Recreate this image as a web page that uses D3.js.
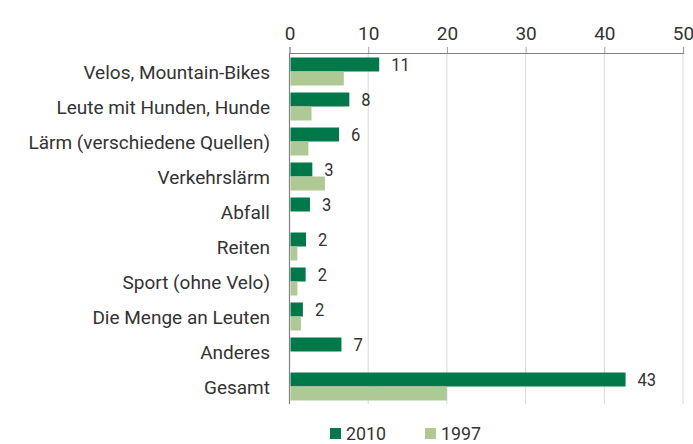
<!DOCTYPE html>
<html><head><meta charset="utf-8">
<script src="https://cdn.jsdelivr.net/npm/d3@7"></script>
<style>
body{margin:0;background:#fff;}
text{font-family:"Roboto","Liberation Sans",sans-serif;fill:#333;}
</style></head>
<body><svg id="c" width="693" height="444"></svg>
<script>
const categories = ["Velos, Mountain-Bikes","Leute mit Hunden, Hunde","Lärm (verschiedene Quellen)","Verkehrslärm","Abfall","Reiten","Sport (ohne Velo)","Die Menge an Leuten","Anderes","Gesamt"];
const series = ["2010","1997"];
const values2010 = [11.4, 7.6, 6.3, 2.9, 2.6, 2.1, 2.05, 1.7, 6.6, 42.7];
const values1997 = [6.9, 2.8, 2.4, 4.5, null, 1.0, 1.0, 1.45, null, 20.0];
const labels2010 = ["11","8","6","3","3","2","2","2","7","43"];
const xTicks = [0,10,20,30,40,50];

const svg = d3.select("#c");
const x = d3.scaleLinear().domain([0,50]).range([289.5, 683]);
const y = d3.scaleBand().domain(categories).range([54, 404]).paddingInner(0.2).paddingOuter(0.1);
const sub = d3.scaleBand().domain(series).range([0, y.bandwidth()]);
const color = d3.scaleOrdinal().domain(series).range(["#00784a","#afc995"]);
const SX = 0.92;

// gridlines
svg.append("g").selectAll("line").data(xTicks.slice(1)).join("line")
  .attr("x1", d=>x(d)).attr("x2", d=>x(d)).attr("y1", 53).attr("y2", 404)
  .attr("stroke", "#d9d9d9").attr("stroke-width", 1);

// top axis
const ax = svg.append("g").attr("transform","translate(0,53)")
  .call(d3.axisTop(x).tickValues(xTicks).tickSize(6).tickPadding(7).tickFormat(d3.format("d")));
ax.select(".domain").attr("stroke","#808080").attr("stroke-width",1.2);
ax.selectAll(".tick line").attr("stroke","#a0a0a0");
ax.selectAll(".tick text").attr("font-size","19px").style("fill","#333").attr("font-family", null);

// left axis line
svg.append("line").attr("x1", x(0)).attr("x2", x(0)).attr("y1", 53).attr("y2", 404)
  .attr("stroke","#808080").attr("stroke-width",1.2);

const rows = categories.map((c,i)=>({c, v:[values2010[i], values1997[i]], lab: labels2010[i]}));

const g = svg.append("g").selectAll("g").data(rows).join("g")
  .attr("transform", d=>`translate(0,${y(d.c)})`);
g.selectAll("rect").data(d=>series.map((s,j)=>({s, v:d.v[j]})).filter(e=>e.v!=null)).join("rect")
  .attr("x", x(0)+1).attr("y", e=>sub(e.s)).attr("height", sub.bandwidth())
  .attr("width", e=>x(e.v)-x(0)-1).attr("fill", e=>color(e.s));
g.append("text").attr("transform", d=>`translate(${x(d.v[0])+12},${sub("2010")+sub.bandwidth()/2}) scale(${SX},1)`)
  .attr("dy","0.36em").attr("font-size","18px").text(d=>d.lab);

// category labels
svg.append("g").selectAll("text").data(categories).join("text")
  .attr("x", 270).attr("y", d=>y(d)+y.bandwidth()/2+1).attr("dy","0.36em")
  .attr("text-anchor","end").attr("font-size","19px").text(d=>d);

// legend
const leg = svg.append("g").selectAll("g").data(series).join("g")
  .attr("transform",(d,i)=>`translate(${330+i*95},428)`);
leg.append("rect").attr("width",11).attr("height",11).attr("fill",d=>color(d));
leg.append("text").attr("x",16).attr("y",11.5).attr("font-size","18px")
  .attr("textLength", 40).attr("lengthAdjust","spacingAndGlyphs").text(d=>d);
</script></body></html>
